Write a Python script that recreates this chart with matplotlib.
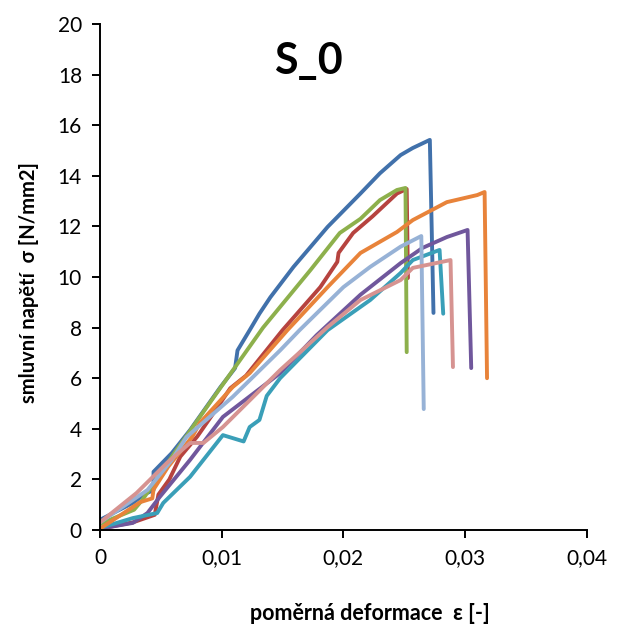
import numpy as np
import matplotlib.pyplot as plt

plt.rcParams['font.family'] = ['Lato', 'DejaVu Sans']

# strain [-] / stress [N/mm2], one list pair per specimen
blue_x = [0, 0.0027, 0.0036, 0.0044, 0.0044, 0.0059, 0.0074, 0.0099, 0.0111, 0.0113,
          0.0123, 0.0131, 0.0140, 0.0159, 0.0187, 0.0214, 0.0230, 0.0247, 0.0257, 0.0271, 0.0274]
blue_y = [0.4, 1.07, 1.4, 1.58, 2.3, 3.04, 3.95, 5.65, 6.4, 7.1,
          7.9, 8.55, 9.2, 10.4, 11.98, 13.3, 14.1, 14.82, 15.1, 15.42, 8.58]

red_x = [0, 0.0027, 0.0045, 0.0048, 0.0057, 0.0066, 0.0080, 0.0093, 0.0107, 0.0120,
         0.0150, 0.0181, 0.0195, 0.0196, 0.0208, 0.0224, 0.0244, 0.0252, 0.0253]
red_y = [0.05, 0.3, 0.6, 1.4, 2.0, 2.9, 3.7, 4.6, 5.6, 6.1,
         7.9, 9.6, 10.6, 10.95, 11.74, 12.4, 13.3, 13.48, 9.96]

green_x = [0, 0.0028, 0.0035, 0.0062, 0.0086, 0.0134, 0.0173, 0.0197, 0.0214, 0.0230,
           0.0244, 0.0251, 0.0252]
green_y = [0.24, 0.8, 1.2, 3.1, 4.74, 8.0, 10.28, 11.74, 12.3, 13.04,
           13.44, 13.52, 7.03]

purple_x = [0, 0.0027, 0.0039, 0.0049, 0.0074, 0.0101, 0.0148, 0.0178, 0.0214, 0.0247,
            0.0265, 0.0285, 0.0302, 0.0305]
purple_y = [0.05, 0.28, 0.67, 1.3, 2.77, 4.47, 6.2, 7.7, 9.3, 10.55,
            11.15, 11.58, 11.86, 6.4]

aqua_x = [0, 0.0027, 0.0047, 0.0052, 0.0074, 0.0101, 0.0118, 0.0123, 0.0131, 0.0137,
          0.0148, 0.0187, 0.0222, 0.0247, 0.0257, 0.0279, 0.0282]
aqua_y = [0.08, 0.47, 0.67, 1.07, 2.1, 3.75, 3.5, 4.07, 4.35, 5.3,
          6.0, 7.9, 9.09, 10.16, 10.67, 11.07, 8.55]

orange_x = [0, 0.0033, 0.0043, 0.0044, 0.0056, 0.0076, 0.0082, 0.0109, 0.0123, 0.0154,
            0.0187, 0.0214, 0.0244, 0.0257, 0.0285, 0.0310, 0.0316, 0.0318]
orange_y = [0.05, 1.1, 1.25, 1.6, 2.5, 3.7, 4.23, 5.65, 6.2, 7.9,
            9.6, 10.95, 11.78, 12.25, 12.96, 13.24, 13.36, 6.0]

ltblue_x = [0, 0.0039, 0.0059, 0.0071, 0.0109, 0.0148, 0.0164, 0.0200, 0.0222, 0.0247,
            0.0264, 0.0266]
ltblue_y = [0.3, 1.58, 2.77, 3.67, 5.26, 7.1, 7.9, 9.6, 10.4, 11.2,
            11.62, 4.78]

pink_x = [0, 0.0030, 0.0055, 0.0074, 0.0085, 0.0101, 0.0148, 0.0187, 0.0214, 0.0247,
          0.0257, 0.0288, 0.0290]
pink_y = [0.3, 1.46, 2.65, 3.44, 3.44, 4.07, 6.32, 8.02, 9.09, 9.88,
          10.36, 10.67, 6.44]

series = [
    (blue_x, blue_y, "#4171AB"),
    (red_x, red_y, "#B6433F"),
    (green_x, green_y, "#8DB04C"),
    (purple_x, purple_y, "#70579C"),
    (aqua_x, aqua_y, "#3A9FB8"),
    (orange_x, orange_y, "#E8833A"),
    (ltblue_x, ltblue_y, "#97B2D6"),
    (pink_x, pink_y, "#D69391"),
]

fig = plt.figure(figsize=(6.21, 6.39), dpi=100)
ax = fig.add_axes([0.161, 0.1706, 0.784, 0.7918])

for xs, ys, c in series:
    ax.plot(xs, ys, color=c, lw=2.8, solid_joinstyle='round', solid_capstyle='round')

ax.set_xlim(0, 0.04)
ax.set_ylim(0, 20)
ax.set_xticks([0, 0.01, 0.02, 0.03, 0.04])
ax.set_xticklabels(["0", "0,01", "0,02", "0,03", "0,04"])
ax.set_yticks(np.arange(0, 21, 2))

for s in ["top", "right"]:
    ax.spines[s].set_visible(False)
for s in ["left", "bottom"]:
    ax.spines[s].set_linewidth(1.4)
ax.tick_params(direction='out', length=6, width=1.4, labelsize=15, pad=7)

ax.set_xlabel("poměrná deformace  ε [-]", fontsize=15.5, fontweight='bold')
ax.set_ylabel("smluvní napětí  σ [N/mm2]", fontsize=14.5, fontweight='bold')
ax.xaxis.set_label_coords(0.554, -0.145)
ax.yaxis.set_label_coords(-0.125, 0.49)

ax.text(0.0171, 18.55, "S_0", fontsize=31, fontweight='bold', ha='center', va='center')

fig.savefig("out.png", dpi=100)
